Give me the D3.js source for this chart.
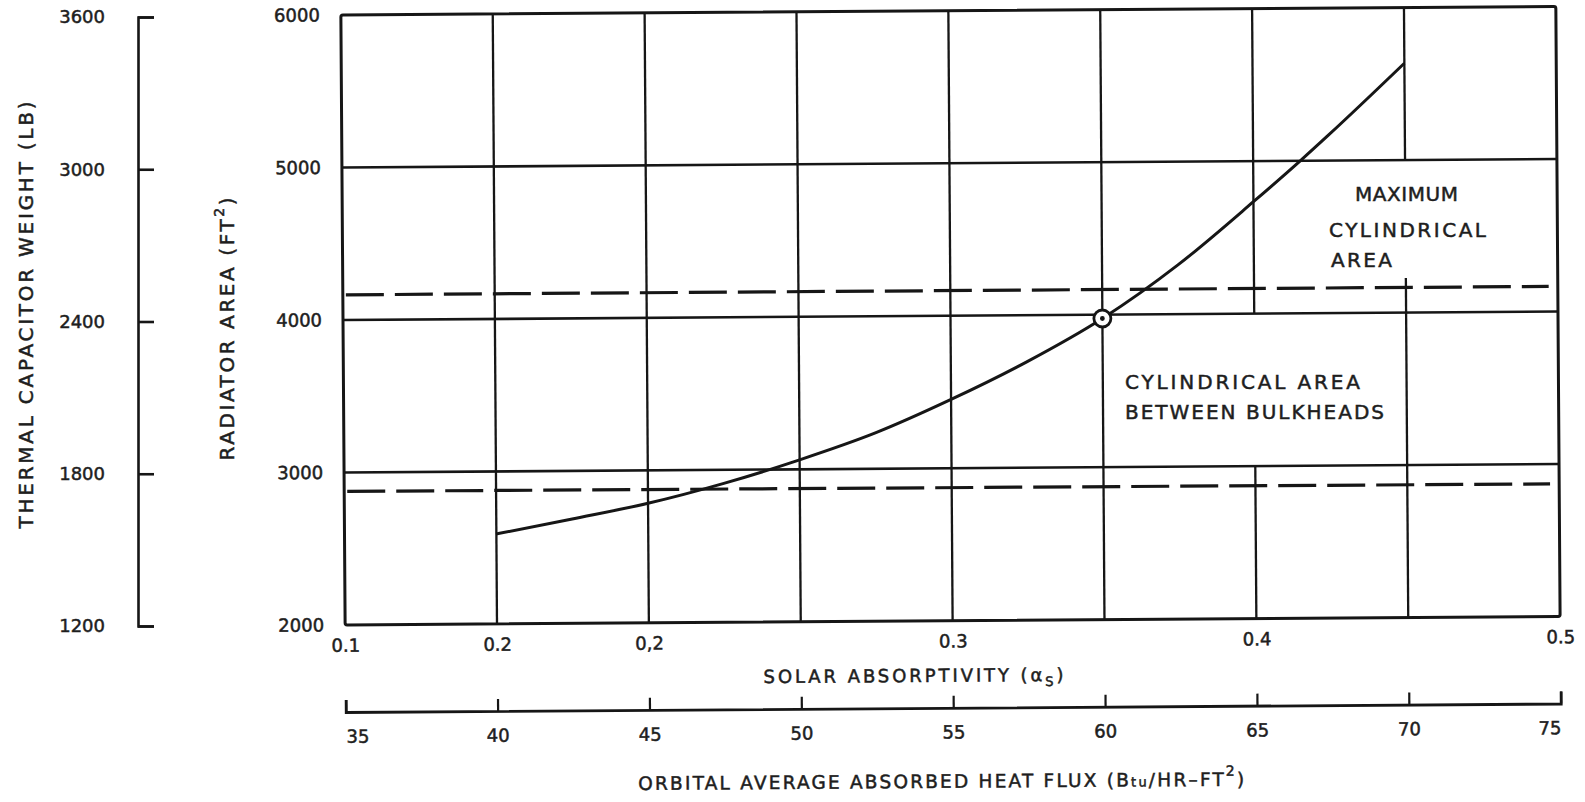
<!DOCTYPE html>
<html>
<head>
<meta charset="utf-8">
<script src="https://cdn.jsdelivr.net/npm/d3@7"></script>
<style>
  body { margin: 0; background: #fff; }
  svg text { font-family: "DejaVu Sans", sans-serif; fill: #1e1e1e; stroke: #1e1e1e; stroke-width: 0.5px; }
  .tick text { font-size: 18px; }
</style>
</head>
<body>
<script>
"use strict";

// heat flux axis (Btu/hr-ft2) and the matching solar absorptivity labels
const fluxTicks = [35, 40, 45, 50, 55, 60, 65, 70, 75];
const absorpAt = [35, 40, 45, 55, 65, 75];
const absorpLabels = ["0.1", "0.2", "0,2", "0.3", "0.4", "0.5"];
const areaTicks = [2000, 3000, 4000, 5000, 6000];
const weightTicks = [1200, 1800, 2400, 3000, 3600];

// radiator area curve
const curveFlux = [40, 42.5, 45, 47.5, 50, 52.5, 55, 57.5, 60, 62.5, 65, 66.55, 67.5, 70];
const curveArea = [2590, 2685, 2784, 2911, 3062, 3235, 3451, 3694, 3975, 4323, 4734, 5000, 5170, 5635];

// design point
const pointFlux = [60];
const pointArea = [3975];

// dashed limits (cylindrical areas)
const dashFlux = [35, 75];
const upperDash = [4165, 4165];
const lowerDash = [2876, 2870];

// pieces of grid left out of the drawing behind the notes
const gridGaps = [
    {flux: 65, from: 3000, to: 4000},
    {flux: 70, from: 4227, to: 5000}
];

const measurements = {
    width: 1585,
    height: 802,
    left: 343,
    right: 1558,
    top: 15,
    bottom: 625
};

const svg = d3.select("body").append("svg")
    .attr("width", measurements.width)
    .attr("height", measurements.height);

const x = d3.scaleLinear()
    .domain([35, 75])
    .range([measurements.left, measurements.right]);

const y = d3.scaleLinear()
    .domain([2000, 6000])
    .range([measurements.bottom, measurements.top]);

const yWeight = d3.scaleLinear()
    .domain([1200, 3600])
    .range([626, 17]);

// the scanned original sits a little crooked
const g = svg.append("g")
    .attr("transform", `rotate(-0.4, ${measurements.left}, ${y(4000)})`);

const ink = "#161616";

// horizontal grid
g.selectAll(".hgrid")
    .data(areaTicks.filter(d => d > 2000 && d < 6000))
    .enter().append("line")
    .attr("x1", x(35)).attr("x2", x(75))
    .attr("y1", d => y(d)).attr("y2", d => y(d))
    .attr("stroke", ink).attr("stroke-width", 2.6);

// vertical grid, split where the notes are
let segments = [];
fluxTicks.filter(d => d > 35 && d < 75).forEach(f => {
    const gap = gridGaps.find(gg => gg.flux === f);
    if (gap) {
        segments.push([f, 2000, gap.from]);
        segments.push([f, gap.to, 6000]);
    } else {
        segments.push([f, 2000, 6000]);
    }
});
g.selectAll(".vgrid")
    .data(segments)
    .enter().append("line")
    .attr("x1", d => x(d[0])).attr("x2", d => x(d[0]))
    .attr("y1", d => y(d[1])).attr("y2", d => y(d[2]))
    .attr("stroke", ink).attr("stroke-width", 2.3);

// frame
g.append("rect")
    .attr("x", x(35)).attr("y", y(6000))
    .attr("width", x(75) - x(35)).attr("height", y(2000) - y(6000))
    .attr("fill", "none").attr("stroke", ink).attr("stroke-width", 3)
    .attr("rx", 2);

// dashed lines
const dashLine = d3.line().x(d => x(d[0])).y(d => y(d[1]));
[upperDash, lowerDash].forEach(vals => {
    g.append("path")
        .attr("d", dashLine([[dashFlux[0] + 0.1, vals[0]], [dashFlux[1] - 0.3, vals[1]]]))
        .attr("fill", "none").attr("stroke", ink)
        .attr("stroke-width", 3.2)
        .attr("stroke-dasharray", "38,11");
});

// curve
const curveLine = d3.line()
    .x(d => x(d[0]))
    .y(d => y(d[1]))
    .curve(d3.curveMonotoneX);
g.append("path")
    .attr("d", curveLine(curveFlux.map((f, i) => [f, curveArea[i]])))
    .attr("fill", "none").attr("stroke", ink).attr("stroke-width", 3);

// design point
g.selectAll(".pt")
    .data(pointFlux)
    .enter().append("circle")
    .attr("cx", d => x(d)).attr("cy", (d, i) => y(pointArea[i]))
    .attr("r", 8.5).attr("fill", "#fff").attr("stroke", ink).attr("stroke-width", 2.8);
g.selectAll(".ptdot")
    .data(pointFlux)
    .enter().append("circle")
    .attr("cx", d => x(d)).attr("cy", (d, i) => y(pointArea[i]))
    .attr("r", 2.4).attr("fill", ink);

// radiator area axis (labels only)
const areaAxis = g.append("g")
    .attr("transform", `translate(${measurements.left},0)`)
    .call(d3.axisLeft(y).tickValues(areaTicks).tickSize(0).tickPadding(21).tickFormat(d3.format("d")));
areaAxis.select(".domain").remove();

// absorptivity labels under the frame
const absAxis = g.append("g")
    .attr("transform", `translate(0,${measurements.bottom})`)
    .call(d3.axisBottom(x).tickValues(absorpAt).tickSize(0).tickPadding(14)
        .tickFormat((d, i) => absorpLabels[i]));
absAxis.select(".domain").remove();

// heat flux axis
const fluxAxis = g.append("g")
    .attr("transform", "translate(0,712)")
    .call(d3.axisBottom(x).tickValues(fluxTicks).tickSize(-12).tickPadding(18).tickFormat(d3.format("d")));
fluxAxis.select(".domain").attr("stroke", ink).attr("stroke-width", 2.8);
fluxAxis.selectAll(".tick line").attr("stroke", ink).attr("stroke-width", 2.2);
fluxAxis.selectAll(".tick text")
    .attr("text-anchor", (d, i) => i === 0 ? "start" : (i === fluxTicks.length - 1 ? "end" : "middle"));

// thermal capacitor weight axis
const wAxis = svg.append("g")
    .attr("transform", "translate(138,0)")
    .call(d3.axisLeft(yWeight).tickValues(weightTicks).tickSize(-16).tickPadding(33).tickFormat(d3.format("d")));
wAxis.select(".domain").attr("stroke", ink).attr("stroke-width", 2.6);
wAxis.selectAll(".tick line").attr("stroke", ink).attr("stroke-width", 2.6);

[areaAxis, absAxis, fluxAxis, wAxis].forEach(a => a.attr("font-family", null).attr("font-size", null));

// axis titles
const solar = g.append("text")
    .attr("x", 911).attr("y", 686)
    .attr("text-anchor", "middle")
    .style("font-size", "18px")
    .attr("textLength", 300).attr("lengthAdjust", "spacing");
solar.append("tspan").text("SOLAR ABSORPTIVITY (\u03b1");
solar.append("tspan").attr("dy", 5).style("font-size", "13px").text("S");
solar.append("tspan").attr("dy", -5).text(")");

const orbital = g.append("text")
    .attr("x", 938).attr("y", 792)
    .attr("text-anchor", "middle")
    .style("font-size", "18.5px")
    .attr("textLength", 606).attr("lengthAdjust", "spacing");
orbital.append("tspan").text("ORBITAL AVERAGE ABSORBED HEAT FLUX (B");
orbital.append("tspan").style("font-size", "13px").text("tu");
orbital.append("tspan").text("/HR\u2013FT");
orbital.append("tspan").attr("dy", -10).style("font-size", "14px").text("2");
orbital.append("tspan").attr("dy", 10).text(")");

svg.append("text")
    .attr("transform", "translate(33,315) rotate(-90)")
    .attr("text-anchor", "middle")
    .style("font-size", "20px")
    .attr("textLength", 427).attr("lengthAdjust", "spacing")
    .text("THERMAL CAPACITOR WEIGHT (LB)");

const rad = svg.append("text")
    .attr("transform", "translate(234,329) rotate(-90)")
    .attr("text-anchor", "middle")
    .style("font-size", "20px")
    .attr("textLength", 263).attr("lengthAdjust", "spacing");
rad.append("tspan").text("RADIATOR AREA (FT");
rad.append("tspan").attr("dy", -10).style("font-size", "14px").text("2");
rad.append("tspan").attr("dy", 10).text(")");

// notes inside the grid
const notes = [
    {text: "MAXIMUM", x: 1355, y: 201, w: 103},
    {text: "CYLINDRICAL", x: 1329, y: 237, w: 157},
    {text: "AREA", x: 1331, y: 267, w: 61},
    {text: "CYLINDRICAL AREA", x: 1125, y: 389, w: 235},
    {text: "BETWEEN BULKHEADS", x: 1125, y: 419, w: 259}
];
svg.selectAll(".note")
    .data(notes)
    .enter().append("text")
    .attr("x", d => d.x).attr("y", d => d.y)
    .attr("textLength", d => d.w).attr("lengthAdjust", "spacing")
    .style("font-size", "20px")
    .text(d => d.text);
</script>
</body>
</html>
